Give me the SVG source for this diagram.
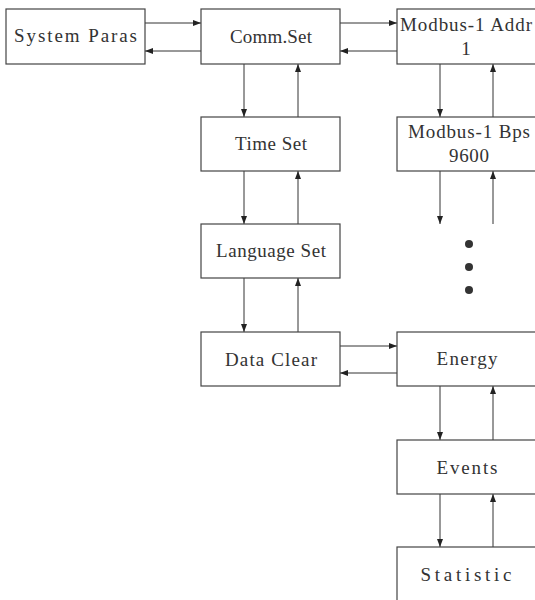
<svg xmlns="http://www.w3.org/2000/svg" width="535" height="600" viewBox="0 0 535 600">
<style>
.box{fill:#fff;stroke:#444;stroke-width:1.2}
.t{font-family:"Liberation Serif","DejaVu Serif",serif;font-size:19px;fill:#333;text-anchor:middle}
.c{stroke:#333;stroke-width:1;fill:none;marker-end:url(#ah)}
</style>
<defs>
<marker id="ah" viewBox="0 0 8 6" refX="8" refY="3" markerWidth="8" markerHeight="6" markerUnits="userSpaceOnUse" orient="auto">
<path d="M0,0 L8,3 L0,6 z" fill="#222"/>
</marker>
</defs>
<rect width="535" height="600" fill="#fff"/>
<g id="connectors">
<line class="c" x1="145" y1="23" x2="201" y2="23"/>
<line class="c" x1="201" y1="51" x2="145" y2="51"/>
<line class="c" x1="340" y1="23" x2="397" y2="23"/>
<line class="c" x1="397" y1="51" x2="340" y2="51"/>
<line class="c" x1="244" y1="64" x2="244" y2="117"/>
<line class="c" x1="298" y1="117" x2="298" y2="64"/>
<line class="c" x1="244" y1="171" x2="244" y2="224"/>
<line class="c" x1="298" y1="224" x2="298" y2="171"/>
<line class="c" x1="244" y1="278" x2="244" y2="332"/>
<line class="c" x1="298" y1="332" x2="298" y2="278"/>
<line class="c" x1="440" y1="64" x2="440" y2="117"/>
<line class="c" x1="493" y1="117" x2="493" y2="64"/>
<line class="c" x1="440" y1="171" x2="440" y2="224"/>
<line class="c" x1="493" y1="224" x2="493" y2="171"/>
<line class="c" x1="340" y1="346" x2="397" y2="346"/>
<line class="c" x1="397" y1="373" x2="340" y2="373"/>
<line class="c" x1="440" y1="386" x2="440" y2="440"/>
<line class="c" x1="493" y1="440" x2="493" y2="386"/>
<line class="c" x1="440" y1="494" x2="440" y2="547"/>
<line class="c" x1="493" y1="547" x2="493" y2="494"/>
</g>
<g id="dots" fill="#333">
<circle cx="469" cy="244" r="4"/>
<circle cx="469" cy="267" r="4"/>
<circle cx="469" cy="290" r="4"/>
</g>
<g id="system-paras"><rect class="box" x="6" y="9" width="139" height="55"/><text class="t" x="75.5" y="42" textLength="123" lengthAdjust="spacing">System Paras</text></g>
<g id="comm-set"><rect class="box" x="201" y="9" width="139" height="55"/><text class="t" x="271" y="43" textLength="82" lengthAdjust="spacing">Comm.Set</text></g>
<g id="modbus-addr"><rect class="box" x="397" y="9" width="145" height="55"/><text class="t" x="466" y="31" textLength="132" lengthAdjust="spacing">Modbus-1 Addr</text><text class="t" x="466" y="55">1</text></g>
<g id="time-set"><rect class="box" x="201" y="117" width="139" height="54"/><text class="t" x="271" y="150" textLength="72" lengthAdjust="spacing">Time Set</text></g>
<g id="modbus-bps"><rect class="box" x="397" y="117" width="145" height="54"/><text class="t" x="469" y="138" textLength="122" lengthAdjust="spacing">Modbus-1 Bps</text><text class="t" x="469" y="162" textLength="40" lengthAdjust="spacing">9600</text></g>
<g id="language-set"><rect class="box" x="201" y="224" width="139" height="54"/><text class="t" x="271" y="257" textLength="110" lengthAdjust="spacing">Language Set</text></g>
<g id="data-clear"><rect class="box" x="201" y="332" width="139" height="54"/><text class="t" x="271" y="366" textLength="92" lengthAdjust="spacing">Data Clear</text></g>
<g id="energy"><rect class="box" x="397" y="332" width="145" height="54"/><text class="t" x="467" y="365" textLength="61" lengthAdjust="spacing">Energy</text></g>
<g id="events"><rect class="box" x="397" y="440" width="145" height="54"/><text class="t" x="467" y="474" textLength="61" lengthAdjust="spacing">Events</text></g>
<g id="statistic"><rect class="box" x="397" y="547" width="145" height="60"/><text class="t" x="466" y="581" textLength="91" lengthAdjust="spacing">Statistic</text></g>
</svg>
